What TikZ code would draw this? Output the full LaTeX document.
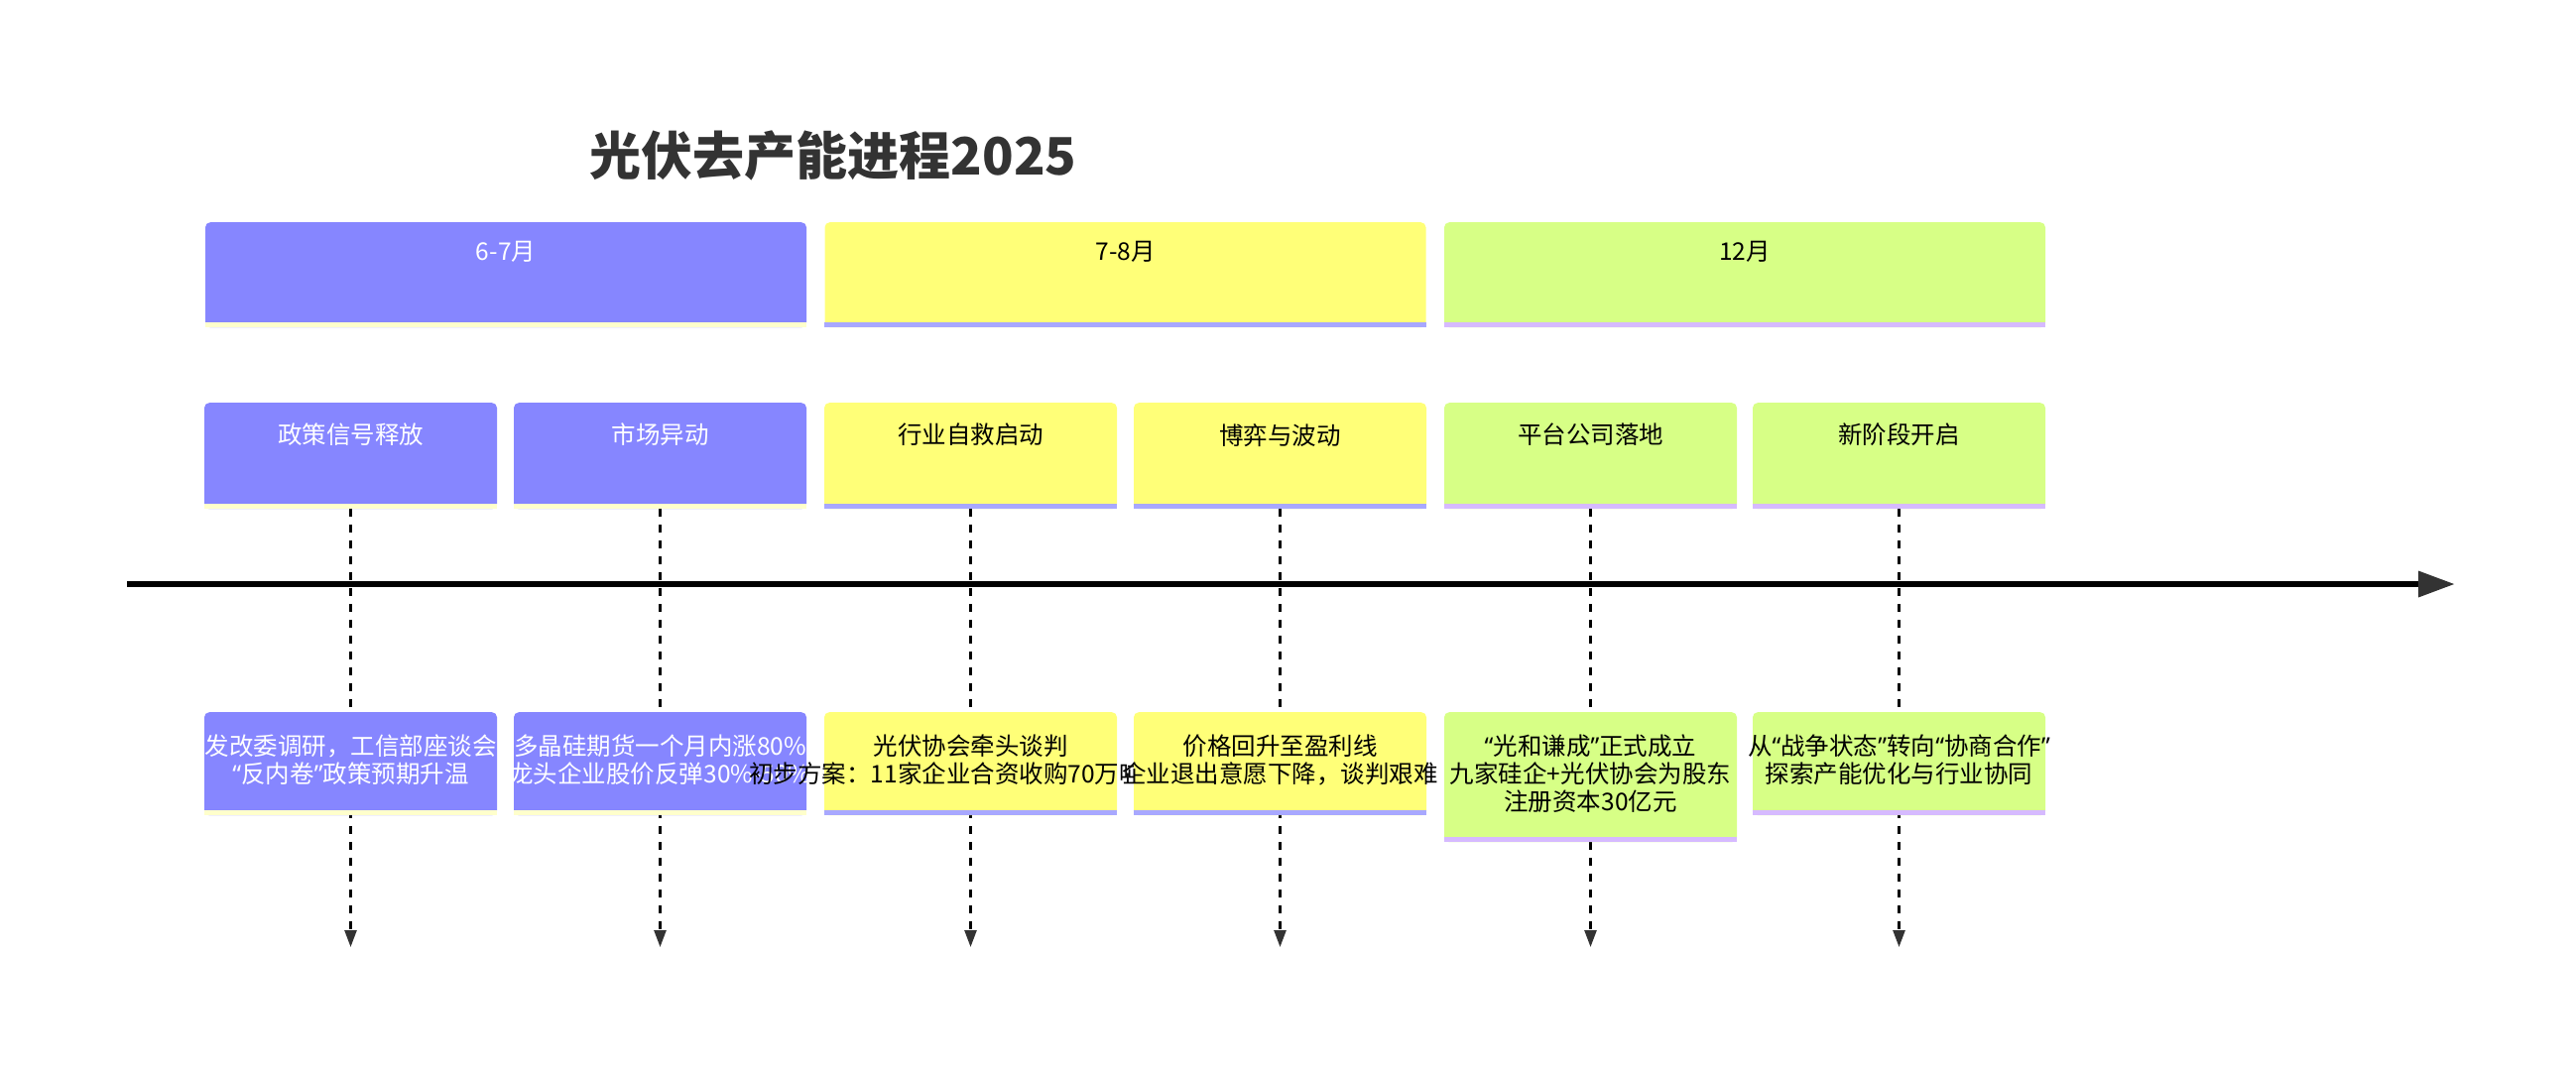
\documentclass[tikz,border=0pt]{standalone}
\usepackage{fontspec}
\setmainfont{Noto Sans CJK SC}
\newfontfamily\quotefont{Noto Sans}
\newcommand\qopen{{\quotefont “}}
\newcommand\qclose{{\quotefont ”}}
\usetikzlibrary{arrows.meta}

\definecolor{secA}{HTML}{8686FF}
\definecolor{secB}{HTML}{FFFF78}
\definecolor{secC}{HTML}{D7FF86}
\definecolor{barA}{HTML}{FFFFCC}
\definecolor{barB}{HTML}{A8A8FF}
\definecolor{barC}{HTML}{D6BAFF}
\definecolor{titlegray}{HTML}{333333}
\definecolor{arrowgray}{HTML}{333333}

\begin{document}
\begin{tikzpicture}[x=1pt,y=-1pt,
    secbox/.style={rounded corners=5pt, minimum width=606pt, minimum height=106pt, inner sep=0pt, anchor=north},
    taskbox/.style={rounded corners=5pt, minimum width=295pt, minimum height=107pt, inner sep=0pt, anchor=north},
    evbox/.style={rounded corners=5pt, minimum width=295pt, minimum height=104pt, inner sep=0pt, anchor=north},
    lbl/.style={font=\fontsize{24.5}{28}\selectfont, align=center, inner sep=0pt, anchor=north},
    bar/.style={line width=5pt},
    drop/.style={line width=2.5pt, dash pattern=on 8pt off 8pt, -{Triangle[length=17pt,width=12pt,color=arrowgray]}}
]
        \useasboundingbox[fill=white] (0,0) rectangle (2597,1080);

        % Title
        \node[font=\fontsize{52}{60}\selectfont\bfseries, text=titlegray] (title) at (840,157) {光伏去产能进程2025};

        % Sections
        \node[secbox, fill=secA] (s1) at (510,224) {};
        \draw[bar, barA] ([yshift=2.5pt]s1.south west) -- ([yshift=2.5pt]s1.south east);
        \node[lbl, text=white] (s1l) at (510,243) {6-7月};
        \node[secbox, fill=secB] (s2) at (1134.5,224) {};
        \draw[bar, barB] ([yshift=2.5pt]s2.south west) -- ([yshift=2.5pt]s2.south east);
        \node[lbl] (s2l) at (1134.5,243) {7-8月};
        \node[secbox, fill=secC] (s3) at (1759,224) {};
        \draw[bar, barC] ([yshift=2.5pt]s3.south west) -- ([yshift=2.5pt]s3.south east);
        \node[lbl] (s3l) at (1759,243) {12月};

        % Periods
        \node[taskbox, fill=secA] (t1) at (353.5,406) {};
        \draw[bar, barA] ([yshift=2.5pt]t1.south west) -- ([yshift=2.5pt]t1.south east);
        \node[lbl, text=white] (t1l) at (353.5,427) {政策信号释放};
        \node[taskbox, fill=secA] (t2) at (665.5,406) {};
        \draw[bar, barA] ([yshift=2.5pt]t2.south west) -- ([yshift=2.5pt]t2.south east);
        \node[lbl, text=white] (t2l) at (665.5,427) {市场异动};
        \node[taskbox, fill=secB] (t3) at (978.5,406) {};
        \draw[bar, barB] ([yshift=2.5pt]t3.south west) -- ([yshift=2.5pt]t3.south east);
        \node[lbl] (t3l) at (978.5,427) {行业自救启动};
        \node[taskbox, fill=secB] (t4) at (1290.5,406) {};
        \draw[bar, barB] ([yshift=2.5pt]t4.south west) -- ([yshift=2.5pt]t4.south east);
        \node[lbl] (t4l) at (1290.5,427) {博弈与波动};
        \node[taskbox, fill=secC] (t5) at (1603.5,406) {};
        \draw[bar, barC] ([yshift=2.5pt]t5.south west) -- ([yshift=2.5pt]t5.south east);
        \node[lbl] (t5l) at (1603.5,427) {平台公司落地};
        \node[taskbox, fill=secC] (t6) at (1914.5,406) {};
        \draw[bar, barC] ([yshift=2.5pt]t6.south west) -- ([yshift=2.5pt]t6.south east);
        \node[lbl] (t6l) at (1914.5,427) {新阶段开启};

        % Drop lines
        \coordinate (d1) at (353.5,955);
        \coordinate (d2) at (665.5,955);
        \coordinate (d3) at (978.5,955);
        \coordinate (d4) at (1290.5,955);
        \coordinate (d5) at (1603.5,955);
        \coordinate (d6) at (1914.5,955);
        \draw[drop] (t1.south) -- (d1);
        \draw[drop] (t2.south) -- (d2);
        \draw[drop] (t3.south) -- (d3);
        \draw[drop] (t4.south) -- (d4);
        \draw[drop] (t5.south) -- (d5);
        \draw[drop] (t6.south) -- (d6);

        % Time axis
        \coordinate (axL) at (128,589);
        \coordinate (axR) at (2475,589);
        \draw[line width=6.5pt, -{Triangle[length=37pt,width=25pt,color=arrowgray]}] (axL) -- (axR);

        % Events
        \node[evbox, fill=secA] (e1) at (353.5,718) {};
        \draw[bar, barA] ([yshift=2.5pt]e1.south west) -- ([yshift=2.5pt]e1.south east);
        \node[lbl, text=white] (e1l) at (353.5,741) {发改委调研，工信部座谈会\\\qopen 反内卷\qclose 政策预期升温};
        \node[evbox, fill=secA] (e2) at (665.5,718) {};
        \draw[bar, barA] ([yshift=2.5pt]e2.south west) -- ([yshift=2.5pt]e2.south east);
        \node[lbl, text=white] (e2l) at (665.5,741) {多晶硅期货一个月内涨80\%\\龙头企业股价反弹30\%-50\%};
        \node[evbox, fill=secB] (e3) at (978.5,718) {};
        \draw[bar, barB] ([yshift=2.5pt]e3.south west) -- ([yshift=2.5pt]e3.south east);
        \node[lbl] (e3l) at (978.5,741) {光伏协会牵头谈判\\初步方案：11家企业合资收购70万吨产能};
        \node[evbox, fill=secB] (e4) at (1290.5,718) {};
        \draw[bar, barB] ([yshift=2.5pt]e4.south west) -- ([yshift=2.5pt]e4.south east);
        \node[lbl] (e4l) at (1290.5,741) {价格回升至盈利线\\企业退出意愿下降，谈判艰难};
        \node[evbox, fill=secC, minimum height=131pt] (e5) at (1603.5,718) {};
        \draw[bar, barC] ([yshift=2.5pt]e5.south west) -- ([yshift=2.5pt]e5.south east);
        \node[lbl] (e5l) at (1603.5,741) {\qopen 光和谦成\qclose 正式成立\\九家硅企+光伏协会为股东\\注册资本30亿元};
        \node[evbox, fill=secC] (e6) at (1914.5,718) {};
        \draw[bar, barC] ([yshift=2.5pt]e6.south west) -- ([yshift=2.5pt]e6.south east);
        \node[lbl] (e6l) at (1914.5,741) {从\qopen 战争状态\qclose 转向\qopen 协商合作\qclose\\探索产能优化与行业协同};
    \end{tikzpicture}
\end{document}
